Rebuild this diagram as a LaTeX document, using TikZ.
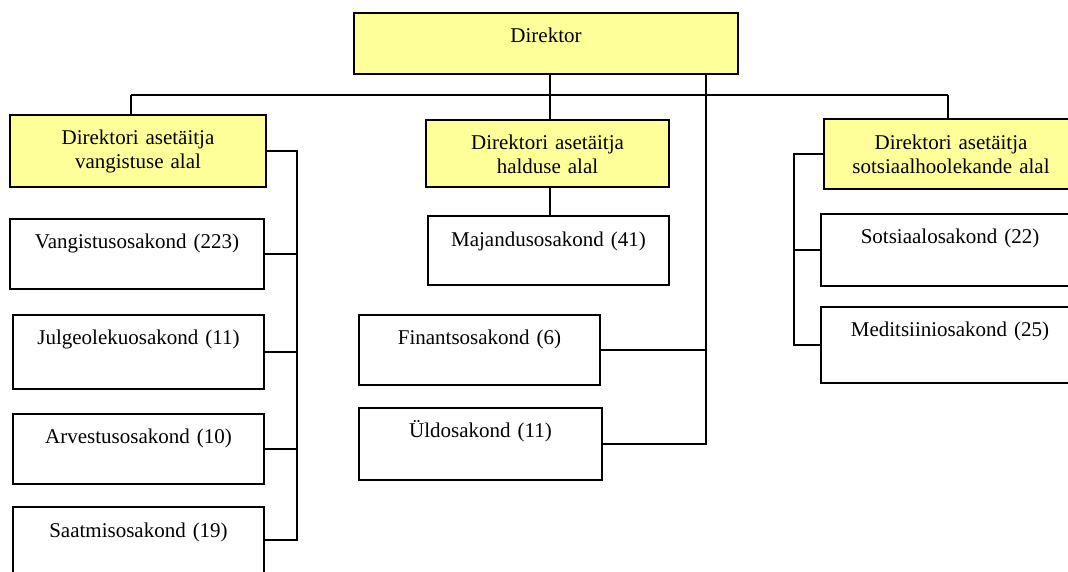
\documentclass[tikz,border=0pt]{standalone}
\usepackage{fontspec}
\setmainfont{Liberation Serif}
\usepackage{tikz}
\definecolor{juhtkollane}{HTML}{FFFF99}
\tikzset{
  yksus/.style={draw, line width=2pt, inner sep=0pt, align=center, anchor=north west,
    font=\fontsize{21}{24.5}\selectfont},
  juht/.style={yksus, fill=juhtkollane},
  osakond/.style={yksus, fill=white},
  liin/.style={line width=2pt}
}
\begin{document}
\begin{tikzpicture}[x=1pt,y=-1pt]
\useasboundingbox (0,0) rectangle (1068,571);

\node[juht, text width=384pt, text height=29pt, text depth=32pt] (dir) at (353,12) {Direktor};
\node[juht, text width=256pt, text height=29pt, text depth=43pt] (vasst) at (9,114) {Direktori asetäitja\\vangistuse alal};
\node[juht, text width=243pt, text height=29pt, text depth=38pt] (hasst) at (425,119) {Direktori asetäitja\\halduse alal};
\node[juht, text width=254pt, text height=30pt, text depth=40pt] (sasst) at (823,118) {Direktori asetäitja\\sotsiaalhoolekande alal};

\node[osakond, text width=254pt, text height=29pt, text depth=41pt] (vang) at (9,218) {Vangistusosakond (223)};
\node[osakond, text width=251pt, text height=29pt, text depth=45pt] (julg) at (12,314) {Julgeolekuosakond (11)};
\node[osakond, text width=251pt, text height=29pt, text depth=41pt] (arv) at (12,413) {Arvestusosakond (10)};
\node[osakond, text width=251pt, text height=30pt, text depth=36pt] (saat) at (12,506) {Saatmisosakond (19)};
\node[osakond, text width=241pt, text height=30pt, text depth=39pt] (maj) at (427,215) {Majandusosakond (41)};
\node[osakond, text width=241pt, text height=29pt, text depth=41pt] (fin) at (358,314) {Finantsosakond (6)};
\node[osakond, text width=243pt, text height=29pt, text depth=43pt] (uld) at (358,407) {Üldosakond (11)};
\node[osakond, text width=258pt, text height=29pt, text depth=43pt] (sots) at (820,213) {Sotsiaalosakond (22)};
\node[osakond, text width=258pt, text height=29pt, text depth=47pt] (med) at (820,306) {Meditsiiniosakond (25)};

\coordinate (bus vasak) at (131,95);
\coordinate (bus parem) at (948,95);
\coordinate (kesk) at (550,73);
\coordinate (parem) at (706,73);
\coordinate (vasak) at (297,0);
\coordinate (sots liin) at (794,0);

\draw[liin] (bus vasak) -- (bus parem);
\draw[liin] (bus vasak) -- (bus vasak |- vasst.north);
\draw[liin] (bus parem) -- (bus parem |- sasst.north);
\draw[liin] (kesk) -- (kesk |- hasst.north);
\draw[liin] (kesk |- hasst.south) -- (kesk |- maj.north);
\draw[liin] (parem) -- (parem |- uld.east) -- (uld.east);
\draw[liin] (fin.east) -- (fin.east -| parem);
\draw[liin] (vasst.east) -- (vasst.east -| vasak) -- (vasak |- saat.east) -- (saat.east);
\foreach \o in {vang,julg,arv}
  \draw[liin] (\o.east) -- (\o.east -| vasak);
\draw[liin] (sasst.west) -- (sasst.west -| sots liin) -- (sots liin |- med.west) -- (med.west);
\draw[liin] (sots.west) -- (sots.west -| sots liin);

\end{tikzpicture}
\end{document}
